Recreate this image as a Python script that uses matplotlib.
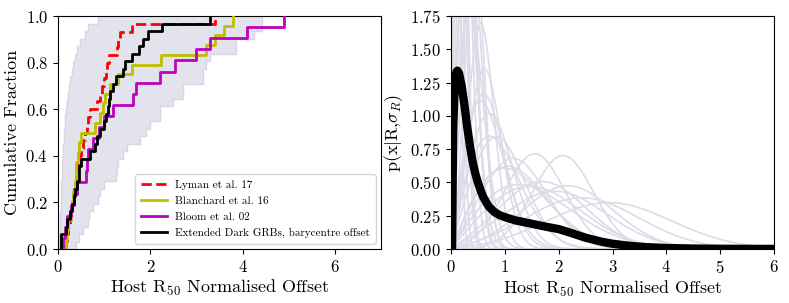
import numpy as np
import matplotlib.pyplot as plt

plt.rcParams['font.family'] = 'serif'
plt.rcParams['font.serif'] = ['cmr10']
plt.rcParams['mathtext.fontset'] = 'cm'
plt.rcParams['axes.formatter.use_mathtext'] = True
plt.rcParams['axes.unicode_minus'] = False

# ---- left panel: offsets (host R50 normalised) ----
lyman = [0.18, 0.2, 0.22, 0.25, 0.27, 0.3, 0.32, 0.35, 0.38, 0.4, 0.43, 0.45, 0.5, 0.55, 0.58,
         0.62, 0.66, 0.7, 0.85, 0.92, 0.95, 1.0, 1.03, 1.06, 1.1, 1.28, 1.3, 1.35, 1.6, 3.4]
blanchard = [0.17, 0.2, 0.22, 0.28, 0.3, 0.33, 0.36, 0.38, 0.4, 0.43, 0.46, 0.5, 0.8, 0.9,
             0.98, 1.02, 1.13, 1.3, 1.6, 2.24, 3.2, 3.41, 3.6, 3.8]
bloom = [0.1, 0.15, 0.2, 0.28, 0.35, 0.42, 0.6, 0.62, 0.65, 0.75, 0.88, 1.0, 1.2, 1.62, 1.68,
         2.22, 2.54, 3.0, 3.3, 4.1, 4.9]
dark = [0.07, 0.07, 0.17, 0.2, 0.25, 0.3, 0.35, 0.37, 0.42, 0.45, 0.45, 0.5, 0.7, 0.8, 0.85,
        0.9, 1.0, 1.05, 1.08, 1.1, 1.12, 1.2, 1.25, 1.4, 1.45, 1.6, 1.75, 1.85, 1.95, 2.25, 3.3]

# envelope of the resampled dark GRB cdfs (grey band)
band_left = [0.02, 0.03, 0.04, 0.05, 0.05, 0.06, 0.06, 0.07, 0.07, 0.08, 0.08, 0.09, 0.1, 0.11,
             0.12, 0.13, 0.15, 0.16, 0.18, 0.2, 0.22, 0.24, 0.26, 0.3, 0.33, 0.37, 0.42, 0.48,
             0.58, 0.66, 0.87]
band_right = [0.38, 0.45, 0.55, 0.65, 0.68, 0.75, 0.87, 0.9, 1.0, 1.25, 1.28, 1.3, 1.4, 1.5,
              1.78, 1.9, 2.0, 2.2, 2.2, 2.5, 2.7, 2.7, 3.15, 3.15, 3.2, 3.3, 3.85, 3.85, 4.25,
              4.43, 4.43]

# ---- right panel: per-GRB offset R and error sigma_R ----
grb_R = [0.0, 0.05, 0.1, 0.0, 0.15, 0.2, 0.25, 0.3, 0.35, 0.4, 0.1, 0.2, 0.5, 0.55, 0.5, 0.6,
         0.7, 1.0, 1.45, 2.0, 1.5, 2.0, 2.7, 1.7, 2.2, 0.8, 1.2, 0.3, 0.2, 0.0, 0.5]
grb_sig = [0.08, 0.1, 0.12, 0.15, 0.12, 0.15, 0.18, 0.15, 0.2, 0.18, 0.25, 0.3, 0.25, 0.32,
           0.4, 0.45, 0.55, 0.65, 0.58, 0.58, 0.85, 0.88, 1.2, 1.0, 1.1, 0.8, 1.0, 0.5, 0.7,
           1.0, 1.2]
# combined probability (thick black)
comb_x = [0.0, 0.02, 0.04, 0.07, 0.1, 0.12, 0.15, 0.2, 0.25, 0.3, 0.35, 0.4, 0.45, 0.5, 0.55,
          0.6, 0.7, 0.8, 0.9, 1.0, 1.2, 1.5, 1.8, 2.0, 2.2, 2.5, 2.8, 3.0, 3.3, 3.6, 4.0, 4.5,
          5.0, 6.0]
comb_y = [0.0, 0.0, 0.9, 1.25, 1.33, 1.34, 1.32, 1.22, 1.08, 0.92, 0.78, 0.66, 0.57, 0.5, 0.44,
          0.39, 0.32, 0.28, 0.255, 0.24, 0.215, 0.19, 0.165, 0.15, 0.125, 0.085, 0.055, 0.04,
          0.025, 0.015, 0.008, 0.004, 0.002, 0.001]

grey = '#dcdce8'


def ecdf(vals):
    x = np.sort(vals)
    y = np.arange(1, len(x) + 1) / len(x)
    return np.concatenate([[x[0]], x]), np.concatenate([[0], y])


def rice(x, nu, s):
    return x / s ** 2 * np.exp(-(x ** 2 + nu ** 2) / (2 * s ** 2)) * np.i0(x * nu / s ** 2)


fig = plt.figure(figsize=(7.89, 3.03), dpi=100)
ax1 = fig.add_axes([0.0735, 0.178, 0.4095, 0.769])
ax2 = fig.add_axes([0.5716, 0.178, 0.4094, 0.769])

# grey band
n = len(band_left)
lv = np.arange(n + 1) / n
px, py = [band_left[0]], [0.0]
for k in range(n):
    px += [band_left[k], band_left[k + 1] if k + 1 < n else band_left[k]]
    py += [lv[k + 1], lv[k + 1]]
qx, qy = [], []
for k in range(n - 1, -1, -1):
    qx += [band_right[k], band_right[k]]
    qy += [lv[k + 1], lv[k]]
ax1.fill(px + qx, py + qy, color='#e3e3ed', lw=0, zorder=1)
for env in (band_left, band_right):
    xs, ys = ecdf(env)
    ax1.step(xs, ys, where='post', color='#d6d6e4', lw=1, zorder=1)

for vals, st, col, lab in [(lyman, '--', 'r', 'Lyman et al. 17'),
                           (blanchard, '-', 'y', 'Blanchard et al. 16'),
                           (bloom, '-', 'm', 'Bloom et al. 02'),
                           (dark, '-', 'k', 'Extended Dark GRBs, barycentre offset')]:
    xs, ys = ecdf(vals)
    ax1.step(xs, ys, where='post', ls=st, color=col, lw=2, label=lab, zorder=3)

ax1.set_xlim(0, 7)
ax1.set_ylim(0, 1)
ax1.set_xticks([0, 2, 4, 6])
ax1.set_yticks(np.arange(0, 1.01, 0.2))
ax1.set_xlabel(r'Host R$_{50}$ Normalised Offset', fontsize=13, labelpad=2)
ax1.set_ylabel('Cumulative Fraction', fontsize=13, labelpad=4)
ax1.tick_params(labelsize=12)
ax1.legend(loc='lower right', fontsize=8, handlelength=2.4, handletextpad=0.7,
           borderpad=0.5, labelspacing=0.55)

xg = np.linspace(0, 6, 800)
for nu, s in zip(grb_R, grb_sig):
    ax2.plot(xg, rice(xg, nu, s), color=grey, lw=1.2, zorder=1)
ax2.plot(comb_x, comb_y, color='k', lw=6, solid_joinstyle='round', zorder=3)

ax2.set_xlim(0, 6)
ax2.set_ylim(0, 1.75)
ax2.set_yticks(np.arange(0, 1.76, 0.25))
ax2.set_xlabel(r'Host R$_{50}$ Normalised Offset', fontsize=13, labelpad=2)
ax2.set_ylabel(r'p(x$|$R,$\sigma_R$)', fontsize=13, labelpad=4)
ax2.tick_params(labelsize=12)

fig.savefig('out.png', dpi=100)
